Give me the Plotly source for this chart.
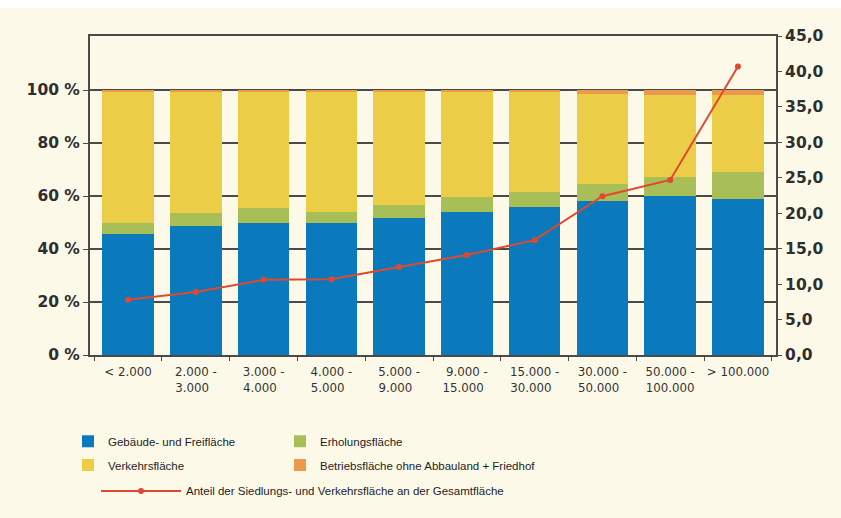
import plotly.graph_objects as go

NB = "\u00a0"
categories = ["< 2.000", "2.000 -<br>3.000" + NB * 2, "3.000 -<br>4.000" + NB * 2,
              "4.000 -<br>5.000" + NB * 2, "5.000 -<br>9.000" + NB * 2,
              "9.000 -<br>15.000" + NB * 2, "15.000 -<br>30.000" + NB * 2,
              "30.000 -<br>50.000" + NB * 2, "50.000 -<br>100.000", "> 100.000"]

gebaeude = [45.5, 48.7, 49.7, 49.7, 51.8, 54.0, 55.7, 58.0, 60.0, 58.9]
erholung = [4.2, 4.9, 5.6, 4.2, 4.8, 5.7, 5.7, 6.4, 7.2, 10.2]
verkehr = [49.8, 45.9, 44.2, 45.6, 42.9, 39.8, 38.1, 34.1, 31.0, 28.9]
betrieb = [0.5, 0.5, 0.5, 0.5, 0.5, 0.5, 0.5, 1.5, 1.8, 2.0]
anteil = [7.8, 8.9, 10.6, 10.7, 12.4, 14.1, 16.2, 22.4, 24.7, 40.7]

left_ticks = [0, 20, 40, 60, 80, 100]
left_labels = ["0 %", "20 %", "40 %", "60 %", "80 %", "100 %"]
right_ticks = [0, 5, 10, 15, 20, 25, 30, 35, 40, 45]

C_BLUE = "#0a7abc"
C_GREEN = "#a8bf58"
C_YELLOW = "#ebcd47"
C_ORANGE = "#e99a4a"
C_RED = "#e0492f"
CREAM = "#fdf9e9"
DARK = "#4a4a4a"
TICKFONT = "DejaVu Sans, sans-serif"
LEGFONT = "Liberation Sans, Arial, sans-serif"

fig = go.Figure()
fig.add_trace(go.Bar(x=categories, y=gebaeude, name="Gebäude- und Freifläche",
                     marker=dict(color=C_BLUE, line=dict(width=0)), legend="legend",
                     showlegend=True))
fig.add_trace(go.Bar(x=categories, y=erholung, name="Erholungsfläche",
                     marker=dict(color=C_GREEN, line=dict(width=0)), legend="legend2"))
fig.add_trace(go.Bar(x=categories, y=verkehr, name="Verkehrsfläche",
                     marker=dict(color=C_YELLOW, line=dict(width=0)), legend="legend3"))
fig.add_trace(go.Bar(x=categories, y=betrieb, name="Betriebsfläche ohne Abbauland + Friedhof",
                     marker=dict(color=C_ORANGE, line=dict(width=0)), legend="legend4"))
fig.add_trace(go.Scatter(x=categories, y=anteil, yaxis="y2", mode="lines+markers",
                         name="Anteil der Siedlungs- und Verkehrsfläche an der Gesamtfläche",
                         line=dict(color=C_RED, width=2), marker=dict(color=C_RED, size=6),
                         legend="legend5"))

lc = dict(orientation="h", xanchor="left", yanchor="middle",
          font=dict(family=LEGFONT, size=11.5, color="#1e1e1e"),
          bgcolor="rgba(0,0,0,0)", itemclick=False, itemdoubleclick=False)

def px_x(p):
    return (p - 90) / 686

fig.update_layout(
    width=841, height=518,
    margin=dict(l=90, r=65, t=36, b=163),
    paper_bgcolor="white",
    plot_bgcolor=CREAM,
    showlegend=True,
    barmode="stack",
    bargap=0.24,
    separators=",.",
    font=dict(family=TICKFONT, color="#2a2a2a"),
    xaxis=dict(type="category", showgrid=False, showline=True, linecolor=DARK, linewidth=2,
               mirror=True, ticks="outside", tickson="boundaries", ticklen=4,
               tickcolor=DARK, ticklabelstandoff=5, tickangle=0,
               tickfont=dict(family=TICKFONT, size=11.8, color="#333333"),
               zeroline=False),
    yaxis=dict(range=[0, 120.4], tickvals=left_ticks, ticktext=left_labels,
               showgrid=True, gridcolor=DARK, gridwidth=2, showline=True,
               linecolor=DARK, linewidth=2, ticks="outside", ticklen=5, tickcolor=DARK,
               tickfont=dict(family=TICKFONT, size=15.5, color="#2e2e2e", weight="bold"),
               zeroline=False),
    yaxis2=dict(range=[0, 45], tickvals=right_ticks, tickformat=".1f", overlaying="y",
                side="right", showgrid=False, showline=True, linecolor=DARK, linewidth=2,
                ticks="outside", ticklen=4, tickcolor=DARK,
                tickfont=dict(family=TICKFONT, size=15.5, color="#2e2e2e", weight="bold"),
                zeroline=False),
    legend=dict(x=px_x(68), y=-0.27, **lc),
    legend2=dict(x=px_x(280), y=-0.27, **lc),
    legend3=dict(x=px_x(68), y=-0.345, **lc),
    legend4=dict(x=px_x(280), y=-0.345, **lc),
    legend5=dict(x=px_x(96), y=-0.426, itemwidth=80, **lc),
    shapes=[dict(type="rect", xref="paper", yref="paper", layer="below",
                 x0=-90/686, x1=1 + 65/686, y0=-163/319, y1=1 + 28/319,
                 fillcolor=CREAM, line=dict(width=0))],
)

fig.write_html("out.html")
